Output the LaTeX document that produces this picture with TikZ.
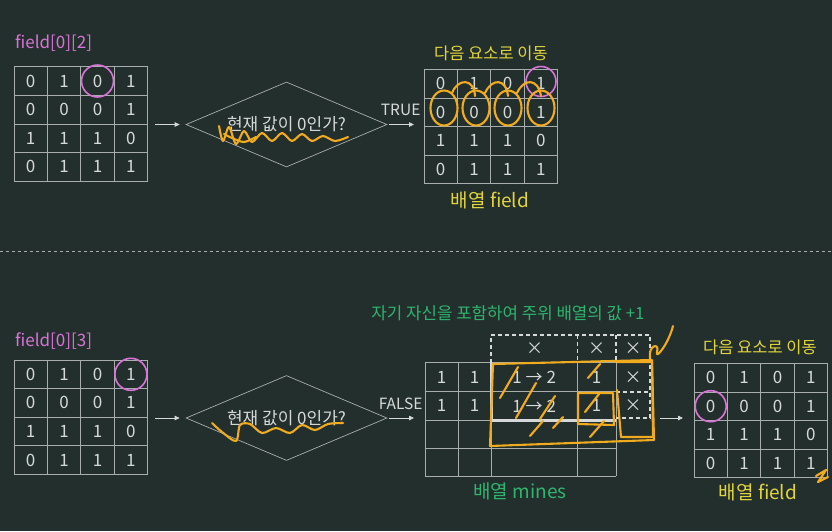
\documentclass[tikz,border=0pt]{standalone}
\usepackage{fontspec}
\setmainfont{Noto Sans CJK KR}
\usetikzlibrary{shapes.geometric,arrows.meta}

\definecolor{bgdark}{HTML}{232F2D}
\definecolor{linegray}{HTML}{A9AEAC}
\definecolor{txtgray}{HTML}{D6D9D7}
\definecolor{pinkmark}{HTML}{D873D8}
\definecolor{titleyellow}{HTML}{E2D43C}
\definecolor{minegreen}{HTML}{2EB56D}
\definecolor{penyellow}{HTML}{F0AC1E}

\tikzset{
  gridline/.style={linegray, line width=0.7pt},
  cellnum/.style={text=txtgray, inner sep=0pt, font=\fontsize{17}{17}\selectfont},
  idxlabel/.style={text=pinkmark, inner sep=0pt, anchor=west, font=\fontsize{17}{17}\selectfont},
  fieldtitle/.style={text=titleyellow, inner sep=0pt, font=\fontsize{16.5}{16.5}\selectfont},
  fieldname/.style={text=titleyellow, inner sep=0pt, font=\fontsize{19}{19}\selectfont},
  ask/.style={diamond, draw=linegray, line width=0.7pt, aspect=2.4, minimum width=201pt,
    minimum height=85pt, inner sep=0pt, text=txtgray, font=\fontsize{17}{17}\selectfont},
  flow/.style={-{Triangle[length=5pt,width=4.5pt]}, txtgray, line width=0.8pt},
  flowlabel/.style={text=txtgray, inner sep=0pt, font=\fontsize{15.5}{15.5}\selectfont},
  pinkring/.style={pinkmark, line width=1.6pt},
  pen/.style={penyellow, line width=2.1pt, line cap=round, line join=round},
  dashbox/.style={txtgray, line width=1.6pt, dash pattern=on 4pt off 3pt}
}

% 4x4 field grid: #1 name, #2 left, #3 top
\newcommand{\fieldgrid}[3]{%
  \foreach \i in {0,...,4} {
    \draw[gridline] (#2+33.4*\i,#3) -- (#2+33.4*\i,#3+114.4);
    \draw[gridline] (#2,#3+28.6*\i) -- (#2+133.6,#3+28.6*\i);
  }
  \foreach \row [count=\r from 0] in {{0,1,0,1},{0,0,0,1},{1,1,1,0},{0,1,1,1}}
    \foreach \v [count=\c from 0] in \row
      \node[cellnum] (#1-\r-\c) at (#2+33.4*\c+16.7,#3+28.6*\r+14.3) {\v};
}

\begin{document}
\begin{tikzpicture}[x=1pt, y=-1pt]
  \fill[bgdark] (0,0) rectangle (832,531);
  \useasboundingbox (0,0) rectangle (832,531);

  % separator
  \draw[linegray, line width=0.6pt, dash pattern=on 3pt off 3pt] (0,251) -- (832,251);

  % ---- TRUE case ----
  \node[idxlabel] (idxA) at (15,43) {field[0][2]};
  \fieldgrid{fieldA}{14}{66.7}
  \draw[pinkring] (fieldA-0-2) circle (16);

  \node[ask] (askA) at (286.5,124.5) {현재 값이 0인가?};
  \coordinate (fieldAe) at (155,124.5);
  \coordinate (fieldBw) at (414,124.5);
  \draw[flow, shorten >=6pt] (fieldAe) -- (askA.west);
  \draw[flow, shorten <=2pt] (askA.east) -- (fieldBw) node[flowlabel, midway, above=8pt] {TRUE};

  \node[fieldtitle] (nextB) at (491,53) {다음 요소로 이동};
  \fieldgrid{fieldB}{424}{69.3}
  \node[fieldname] (nameB) at (490,200) {배열 field};
  \draw[pinkring] (541,81.5) circle (15);

  % ---- FALSE case ----
  \node[idxlabel] (idxC) at (15,341.5) {field[0][3]};
  \fieldgrid{fieldC}{14}{360}
  \draw[pinkring] (fieldC-0-3) circle (16);

  \node[ask] (askC) at (286.5,418) {현재 값이 0인가?};
  \coordinate (fieldCe) at (155,418);
  \coordinate (minesW) at (414,418);
  \draw[flow, shorten >=6pt] (fieldCe) -- (askC.west);
  \draw[flow, shorten <=2pt] (askC.east) -- (minesW) node[flowlabel, midway, above=8pt] {FALSE};

  % mines grid
  \node[text=minegreen, inner sep=0pt, font=\fontsize{16.8}{16.8}\selectfont] (plusone) at (508,313) {자기 자신을 포함하여 주위 배열의 값 +1};
  \foreach \x in {425,458.3,491,577.3,616}
    \draw[gridline] (\x,362.7) -- (\x,476);
  \foreach \y in {362.7,391.7,420,448.3,476}
    \draw[gridline] (425,\y) -- (616,\y);
  \draw[dashbox] (491,362.7) -- (491,335) -- (650,335) -- (650,418) -- (616,418);
  \draw[dashbox] (577.3,335) -- (577.3,362.7);
  \draw[dashbox] (616,335) -- (616,362.7);
  \draw[dashbox] (616,391.7) -- (650,391.7);
  \draw[txtgray, line width=3pt] (491,362.7) -- (491,420) -- (616,420);

  \foreach \r/\y in {0/377.2,1/405.9} {
    \node[cellnum] (mines-\r-0) at (441.7,\y) {1};
    \node[cellnum] (mines-\r-1) at (474.7,\y) {1};
    \node[cellnum] (mines-\r-2) at (534.2,\y) {1 → 2};
    \node[cellnum] (mines-\r-3) at (596.7,\y) {1};
    \node[cellnum] (mines-\r-4) at (633,\y) {×};
  }
  \node[cellnum] (out-0) at (534.5,348.5) {×};
  \node[cellnum] (out-1) at (596.5,348.5) {×};
  \node[cellnum] (out-2) at (633,348.5) {×};
  \node[text=minegreen, inner sep=0pt, font=\fontsize{19}{19}\selectfont] (nameM) at (520,491.5) {배열 mines};

  \coordinate (minesE) at (660,418);
  \coordinate (fieldDw) at (683,418);
  \draw[flow] (minesE) -- (fieldDw);

  \node[fieldtitle] (nextD) at (760,347.5) {다음 요소로 이동};
  \fieldgrid{fieldD}{694}{363.3}
  \node[fieldname] (nameD) at (758,492.5) {배열 field};
  \draw[pinkring] (fieldD-1-0) circle (15.5);

  % ---- pen marks ----
  \draw[pen] plot[smooth] coordinates {(219,126) (223,141) (229,127) (236,144) (244,131)
    (252,142) (262,133) (272,141) (282,133) (292,141) (302,134) (312,141) (323,136) (335,141) (348,137)};
  \draw[pen] plot[smooth] coordinates {(224,134) (232,138) (244,142) (256,137)};
  \foreach \x in {444,476,508,541}
    \draw[pen] (\x,108) ellipse (13.5 and 17.5);
  \draw[pen] (452,93) .. controls (458,78) and (474,78) .. (475,96);
  \draw[pen] (485,93) .. controls (492,78) and (506,78) .. (508,96);
  \draw[pen] (517,93) .. controls (524,78) and (538,78) .. (541,96);

  \draw[pen] plot[smooth] coordinates {(212,423) (222,432) (236,441) (240,425) (250,424)
    (262,433) (276,428) (290,433) (302,425) (315,430) (328,424) (343,423)};

  \draw[pen] (493,364) -- (652,360) -- (654,440) -- (490,446) -- cycle;
  \draw[pen] (578,393) -- (613,393) -- (614,425) -- (578,424) -- cycle;
  \draw[pen] (616,362) -- (652,362) -- (653,437) -- (621,437) -- (617,390);
  \foreach \a/\b/\c/\d in {500/398/518/367, 516/418/536/383, 540/419/555/396, 530/436/543/421,
    553/428/563/417, 588/378/600/364, 585/412/599/394, 590/437/604/421}
    \draw[pen] (\a,\b) -- (\c,\d);
  \draw[pen] (650,358) .. controls (648,345) and (660,342) .. (657,352)
    .. controls (655,360) and (668,345) .. (673,326);
  \draw[pen] (816,476) -- (826,470) -- (818,482) -- (828,477);
\end{tikzpicture}
\end{document}
